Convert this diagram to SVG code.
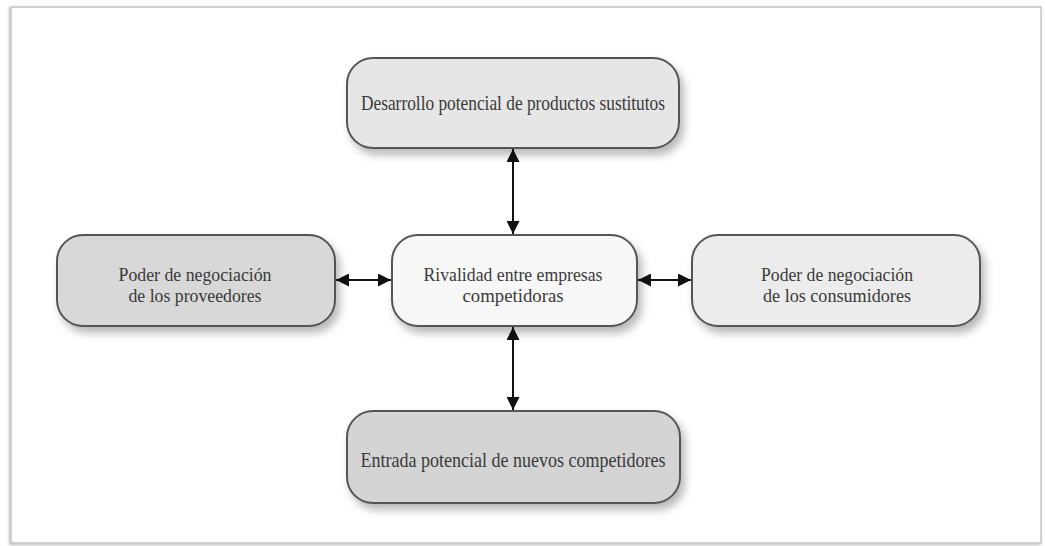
<svg xmlns="http://www.w3.org/2000/svg" width="1045" height="546" viewBox="0 0 1045 546">
<defs>
<style>
.box{stroke:#555;stroke-width:2;filter:url(#sh)}
.t{font-family:"Liberation Serif","Times New Roman",serif;font-size:21px;fill:#3a3a3a;text-anchor:middle}
.t2{font-size:19px}
.c{stroke:#111;stroke-width:2;fill:none;marker-start:url(#ah);marker-end:url(#ah)}
</style>
<filter id="sh" x="-10%" y="-20%" width="125%" height="150%">
<feDropShadow dx="4" dy="6" stdDeviation="4" flood-color="#000" flood-opacity="0.28"/>
</filter>
<filter id="fsh" x="-2%" y="-2%" width="104%" height="104%">
<feDropShadow dx="-1" dy="1" stdDeviation="1.5" flood-color="#000" flood-opacity="0.3"/>
</filter>
<marker id="ah" viewBox="0 0 10 10" refX="10" refY="5" markerWidth="6.5" markerHeight="6.5" orient="auto-start-reverse" markerUnits="strokeWidth">
<path d="M0,0 L10,5 L0,10 z" fill="#111"/>
</marker>
</defs>
<rect width="1045" height="546" fill="#fff"/>
<rect x="11" y="7" width="1030" height="536" fill="#fff" stroke="#c4c4c4" stroke-width="1.5" filter="url(#fsh)"/>
<g id="connectors">
<line class="c" x1="513" y1="149" x2="513" y2="234"/>
<line class="c" x1="513" y1="327" x2="513" y2="410"/>
<line class="c" x1="336" y1="280" x2="391" y2="280"/>
<line class="c" x1="638" y1="280" x2="691" y2="280"/>
</g>
<g id="top">
<rect class="box" x="347" y="58" width="332" height="90" rx="26" fill="#e6e6e6"/>
<text class="t" x="513" y="110" textLength="304" lengthAdjust="spacingAndGlyphs">Desarrollo potencial de productos sustitutos</text>
</g>
<g id="left">
<rect class="box" x="57" y="235" width="278" height="91" rx="26" fill="#d8d8d8"/>
<text class="t t2" x="195" y="281" textLength="153" lengthAdjust="spacingAndGlyphs">Poder de negociación</text>
<text class="t t2" x="195" y="302" textLength="133" lengthAdjust="spacingAndGlyphs">de los proveedores</text>
</g>
<g id="center">
<rect class="box" x="392" y="235" width="245" height="91" rx="26" fill="#f7f7f7"/>
<text class="t t2" x="513" y="281" textLength="179" lengthAdjust="spacingAndGlyphs">Rivalidad entre empresas</text>
<text class="t t2" x="513" y="302" textLength="101" lengthAdjust="spacingAndGlyphs">competidoras</text>
</g>
<g id="right">
<rect class="box" x="692" y="235" width="288" height="91" rx="26" fill="#ececec"/>
<text class="t t2" x="837" y="281" textLength="152" lengthAdjust="spacingAndGlyphs">Poder de negociación</text>
<text class="t t2" x="837" y="302" textLength="148" lengthAdjust="spacingAndGlyphs">de los consumidores</text>
</g>
<g id="bottom">
<rect class="box" x="347" y="411" width="333" height="92" rx="26" fill="#d4d4d4"/>
<text class="t" x="513" y="467" textLength="305" lengthAdjust="spacingAndGlyphs">Entrada potencial de nuevos competidores</text>
</g>
</svg>
